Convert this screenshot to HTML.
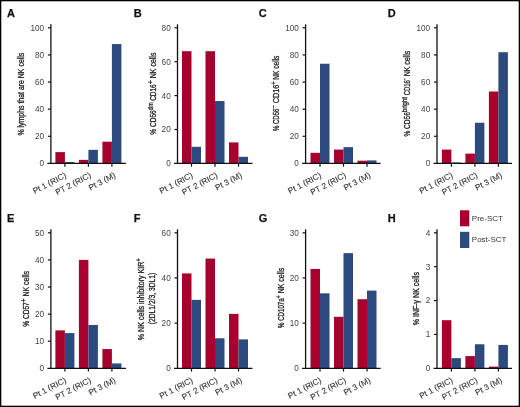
<!DOCTYPE html>
<html><head><meta charset="utf-8"><style>
html,body{margin:0;padding:0;background:#fff;}
svg{display:block;} text{filter:grayscale(1);}
</style></head><body><div class="w">
<svg width="520" height="407" viewBox="0 0 520 407" font-family='"Liberation Sans", sans-serif'>
<rect x="0" y="0" width="520" height="407" fill="#fff"/>
<text x="7.0" y="16.9" font-size="11" font-weight="bold" fill="#111" stroke="#111" stroke-width="0.25">A</text>
<rect x="55.40" y="152.15" width="9.5" height="11.25" fill="#a8012d"/>
<rect x="64.90" y="162.04" width="9.5" height="1.36" fill="#2d4a7e"/>
<rect x="78.90" y="159.87" width="9.5" height="3.53" fill="#a8012d"/>
<rect x="88.40" y="149.84" width="9.5" height="13.56" fill="#2d4a7e"/>
<rect x="102.40" y="141.70" width="9.5" height="21.70" fill="#a8012d"/>
<rect x="111.90" y="44.07" width="9.5" height="119.33" fill="#2d4a7e"/>
<line x1="50.9" y1="24.3" x2="50.9" y2="164.1" stroke="#111" stroke-width="1.3"/>
<line x1="47.4" y1="163.4" x2="125.9" y2="163.4" stroke="#111" stroke-width="1.3"/>
<text x="44.10" y="166.30" font-size="8.2" text-anchor="end" fill="#444">0</text>
<line x1="47.9" y1="136.28" x2="50.9" y2="136.28" stroke="#111" stroke-width="1.2"/>
<text x="44.10" y="139.18" font-size="8.2" text-anchor="end" fill="#444">20</text>
<line x1="47.9" y1="109.16" x2="50.9" y2="109.16" stroke="#111" stroke-width="1.2"/>
<text x="44.10" y="112.06" font-size="8.2" text-anchor="end" fill="#444">40</text>
<line x1="47.9" y1="82.04" x2="50.9" y2="82.04" stroke="#111" stroke-width="1.2"/>
<text x="44.10" y="84.94" font-size="8.2" text-anchor="end" fill="#444">60</text>
<line x1="47.9" y1="54.92" x2="50.9" y2="54.92" stroke="#111" stroke-width="1.2"/>
<text x="44.10" y="57.82" font-size="8.2" text-anchor="end" fill="#444">80</text>
<line x1="47.9" y1="27.80" x2="50.9" y2="27.80" stroke="#111" stroke-width="1.2"/>
<text x="44.10" y="30.70" font-size="8.2" text-anchor="end" fill="#444">100</text>
<line x1="64.9" y1="163.4" x2="64.9" y2="166.70000000000002" stroke="#111" stroke-width="1.2"/>
<text transform="translate(66.90,177.00) rotate(-28)" font-size="8.2" text-anchor="end" fill="#333" stroke="#333" stroke-width="0.12">Pt 1 (RIC)</text>
<line x1="88.4" y1="163.4" x2="88.4" y2="166.70000000000002" stroke="#111" stroke-width="1.2"/>
<text transform="translate(91.60,177.00) rotate(-28)" font-size="8.2" text-anchor="end" fill="#333" stroke="#333" stroke-width="0.12">PT 2 (RIC)</text>
<line x1="111.9" y1="163.4" x2="111.9" y2="166.70000000000002" stroke="#111" stroke-width="1.2"/>
<text transform="translate(116.10,177.00) rotate(-28)" font-size="8.2" text-anchor="end" fill="#333" stroke="#333" stroke-width="0.12">Pt 3 (M)</text>
<text transform="translate(23.9,94.15) rotate(-90)" font-size="8.5" text-anchor="middle" textLength="82.9" fill="#222" stroke="#222" stroke-width="0.3" lengthAdjust="spacingAndGlyphs">% lymphs that are NK cells</text>
<text x="133.7" y="16.9" font-size="11" font-weight="bold" fill="#111" stroke="#111" stroke-width="0.25">B</text>
<rect x="182.00" y="51.19" width="9.5" height="112.21" fill="#a8012d"/>
<rect x="191.50" y="146.79" width="9.5" height="16.61" fill="#2d4a7e"/>
<rect x="205.50" y="51.19" width="9.5" height="112.21" fill="#a8012d"/>
<rect x="215.00" y="101.02" width="9.5" height="62.38" fill="#2d4a7e"/>
<rect x="229.00" y="142.38" width="9.5" height="21.02" fill="#a8012d"/>
<rect x="238.50" y="156.79" width="9.5" height="6.61" fill="#2d4a7e"/>
<line x1="177.5" y1="24.3" x2="177.5" y2="164.1" stroke="#111" stroke-width="1.3"/>
<line x1="174.0" y1="163.4" x2="252.5" y2="163.4" stroke="#111" stroke-width="1.3"/>
<text x="170.70" y="166.30" font-size="8.2" text-anchor="end" fill="#444">0</text>
<line x1="174.5" y1="129.50" x2="177.5" y2="129.50" stroke="#111" stroke-width="1.2"/>
<text x="170.70" y="132.40" font-size="8.2" text-anchor="end" fill="#444">20</text>
<line x1="174.5" y1="95.60" x2="177.5" y2="95.60" stroke="#111" stroke-width="1.2"/>
<text x="170.70" y="98.50" font-size="8.2" text-anchor="end" fill="#444">40</text>
<line x1="174.5" y1="61.70" x2="177.5" y2="61.70" stroke="#111" stroke-width="1.2"/>
<text x="170.70" y="64.60" font-size="8.2" text-anchor="end" fill="#444">60</text>
<line x1="174.5" y1="27.80" x2="177.5" y2="27.80" stroke="#111" stroke-width="1.2"/>
<text x="170.70" y="30.70" font-size="8.2" text-anchor="end" fill="#444">80</text>
<line x1="191.5" y1="163.4" x2="191.5" y2="166.70000000000002" stroke="#111" stroke-width="1.2"/>
<text transform="translate(193.50,177.00) rotate(-28)" font-size="8.2" text-anchor="end" fill="#333" stroke="#333" stroke-width="0.12">Pt 1 (RIC)</text>
<line x1="215.0" y1="163.4" x2="215.0" y2="166.70000000000002" stroke="#111" stroke-width="1.2"/>
<text transform="translate(218.20,177.00) rotate(-28)" font-size="8.2" text-anchor="end" fill="#333" stroke="#333" stroke-width="0.12">PT 2 (RIC)</text>
<line x1="238.5" y1="163.4" x2="238.5" y2="166.70000000000002" stroke="#111" stroke-width="1.2"/>
<text transform="translate(242.70,177.00) rotate(-28)" font-size="8.2" text-anchor="end" fill="#333" stroke="#333" stroke-width="0.12">Pt 3 (M)</text>
<g transform="translate(155.6,0) rotate(-90)">
<text x="-134.80" y="0" font-size="8.5" textLength="24.50" fill="#222" stroke="#222" stroke-width="0.3" lengthAdjust="spacingAndGlyphs" xml:space="preserve">% CD56</text>
<text x="-110.30" y="-3" font-size="6.6" textLength="7.70" fill="#222" stroke="#222" stroke-width="0.3" lengthAdjust="spacingAndGlyphs" xml:space="preserve">dim</text>
<text x="-102.60" y="0" font-size="8.5" textLength="18.30" fill="#222" stroke="#222" stroke-width="0.3" lengthAdjust="spacingAndGlyphs" xml:space="preserve"> CD16</text>
<text x="-84.30" y="-3" font-size="6.6" textLength="4.10" fill="#222" stroke="#222" stroke-width="0.3" lengthAdjust="spacingAndGlyphs" xml:space="preserve">+</text>
<text x="-80.20" y="0" font-size="8.5" textLength="27.60" fill="#222" stroke="#222" stroke-width="0.3" lengthAdjust="spacingAndGlyphs" xml:space="preserve"> NK cells</text>
</g>
<text x="258.7" y="16.9" font-size="11" font-weight="bold" fill="#111" stroke="#111" stroke-width="0.25">C</text>
<rect x="310.50" y="152.82" width="9.5" height="10.58" fill="#a8012d"/>
<rect x="320.00" y="63.73" width="9.5" height="99.67" fill="#2d4a7e"/>
<rect x="334.00" y="149.57" width="9.5" height="13.83" fill="#a8012d"/>
<rect x="343.50" y="147.13" width="9.5" height="16.27" fill="#2d4a7e"/>
<rect x="357.50" y="160.69" width="9.5" height="2.71" fill="#a8012d"/>
<rect x="367.00" y="160.42" width="9.5" height="2.98" fill="#2d4a7e"/>
<line x1="305.6" y1="24.3" x2="305.6" y2="164.1" stroke="#111" stroke-width="1.3"/>
<line x1="302.1" y1="163.4" x2="380.6" y2="163.4" stroke="#111" stroke-width="1.3"/>
<text x="298.80" y="166.30" font-size="8.2" text-anchor="end" fill="#444">0</text>
<line x1="302.6" y1="136.28" x2="305.6" y2="136.28" stroke="#111" stroke-width="1.2"/>
<text x="298.80" y="139.18" font-size="8.2" text-anchor="end" fill="#444">20</text>
<line x1="302.6" y1="109.16" x2="305.6" y2="109.16" stroke="#111" stroke-width="1.2"/>
<text x="298.80" y="112.06" font-size="8.2" text-anchor="end" fill="#444">40</text>
<line x1="302.6" y1="82.04" x2="305.6" y2="82.04" stroke="#111" stroke-width="1.2"/>
<text x="298.80" y="84.94" font-size="8.2" text-anchor="end" fill="#444">60</text>
<line x1="302.6" y1="54.92" x2="305.6" y2="54.92" stroke="#111" stroke-width="1.2"/>
<text x="298.80" y="57.82" font-size="8.2" text-anchor="end" fill="#444">80</text>
<line x1="302.6" y1="27.80" x2="305.6" y2="27.80" stroke="#111" stroke-width="1.2"/>
<text x="298.80" y="30.70" font-size="8.2" text-anchor="end" fill="#444">100</text>
<line x1="320.0" y1="163.4" x2="320.0" y2="166.70000000000002" stroke="#111" stroke-width="1.2"/>
<text transform="translate(322.00,177.00) rotate(-28)" font-size="8.2" text-anchor="end" fill="#333" stroke="#333" stroke-width="0.12">Pt 1 (RIC)</text>
<line x1="343.5" y1="163.4" x2="343.5" y2="166.70000000000002" stroke="#111" stroke-width="1.2"/>
<text transform="translate(346.70,177.00) rotate(-28)" font-size="8.2" text-anchor="end" fill="#333" stroke="#333" stroke-width="0.12">PT 2 (RIC)</text>
<line x1="367.0" y1="163.4" x2="367.0" y2="166.70000000000002" stroke="#111" stroke-width="1.2"/>
<text transform="translate(371.20,177.00) rotate(-28)" font-size="8.2" text-anchor="end" fill="#333" stroke="#333" stroke-width="0.12">Pt 3 (M)</text>
<g transform="translate(279.3,0) rotate(-90)">
<text x="-131.00" y="0" font-size="8.5" textLength="22.40" fill="#222" stroke="#222" stroke-width="0.3" lengthAdjust="spacingAndGlyphs" xml:space="preserve">% CD56</text>
<text x="-108.60" y="-3" font-size="6.6" textLength="3.30" fill="#222" stroke="#222" stroke-width="0.3" lengthAdjust="spacingAndGlyphs" xml:space="preserve">−</text>
<text x="-105.30" y="0" font-size="8.5" textLength="20.50" fill="#222" stroke="#222" stroke-width="0.3" lengthAdjust="spacingAndGlyphs" xml:space="preserve"> CD16</text>
<text x="-84.80" y="-3" font-size="6.6" textLength="3.30" fill="#222" stroke="#222" stroke-width="0.3" lengthAdjust="spacingAndGlyphs" xml:space="preserve">+</text>
<text x="-81.50" y="0" font-size="8.5" textLength="25.90" fill="#222" stroke="#222" stroke-width="0.3" lengthAdjust="spacingAndGlyphs" xml:space="preserve"> NK cells</text>
</g>
<text x="387.8" y="16.9" font-size="11" font-weight="bold" fill="#111" stroke="#111" stroke-width="0.25">D</text>
<rect x="441.90" y="149.57" width="9.5" height="13.83" fill="#a8012d"/>
<rect x="451.40" y="162.45" width="9.5" height="0.95" fill="#2d4a7e"/>
<rect x="465.40" y="153.64" width="9.5" height="9.76" fill="#a8012d"/>
<rect x="474.90" y="122.72" width="9.5" height="40.68" fill="#2d4a7e"/>
<rect x="488.90" y="91.53" width="9.5" height="71.87" fill="#a8012d"/>
<rect x="498.40" y="52.21" width="9.5" height="111.19" fill="#2d4a7e"/>
<line x1="437.0" y1="24.3" x2="437.0" y2="164.1" stroke="#111" stroke-width="1.3"/>
<line x1="433.5" y1="163.4" x2="512.0" y2="163.4" stroke="#111" stroke-width="1.3"/>
<text x="430.20" y="166.30" font-size="8.2" text-anchor="end" fill="#444">0</text>
<line x1="434.0" y1="136.28" x2="437.0" y2="136.28" stroke="#111" stroke-width="1.2"/>
<text x="430.20" y="139.18" font-size="8.2" text-anchor="end" fill="#444">20</text>
<line x1="434.0" y1="109.16" x2="437.0" y2="109.16" stroke="#111" stroke-width="1.2"/>
<text x="430.20" y="112.06" font-size="8.2" text-anchor="end" fill="#444">40</text>
<line x1="434.0" y1="82.04" x2="437.0" y2="82.04" stroke="#111" stroke-width="1.2"/>
<text x="430.20" y="84.94" font-size="8.2" text-anchor="end" fill="#444">60</text>
<line x1="434.0" y1="54.92" x2="437.0" y2="54.92" stroke="#111" stroke-width="1.2"/>
<text x="430.20" y="57.82" font-size="8.2" text-anchor="end" fill="#444">80</text>
<line x1="434.0" y1="27.80" x2="437.0" y2="27.80" stroke="#111" stroke-width="1.2"/>
<text x="430.20" y="30.70" font-size="8.2" text-anchor="end" fill="#444">100</text>
<line x1="451.4" y1="163.4" x2="451.4" y2="166.70000000000002" stroke="#111" stroke-width="1.2"/>
<text transform="translate(453.40,177.00) rotate(-28)" font-size="8.2" text-anchor="end" fill="#333" stroke="#333" stroke-width="0.12">Pt 1 (RIC)</text>
<line x1="474.9" y1="163.4" x2="474.9" y2="166.70000000000002" stroke="#111" stroke-width="1.2"/>
<text transform="translate(478.10,177.00) rotate(-28)" font-size="8.2" text-anchor="end" fill="#333" stroke="#333" stroke-width="0.12">PT 2 (RIC)</text>
<line x1="498.4" y1="163.4" x2="498.4" y2="166.70000000000002" stroke="#111" stroke-width="1.2"/>
<text transform="translate(502.60,177.00) rotate(-28)" font-size="8.2" text-anchor="end" fill="#333" stroke="#333" stroke-width="0.12">Pt 3 (M)</text>
<g transform="translate(410.4,0) rotate(-90)">
<text x="-136.50" y="0" font-size="8.5" textLength="24.30" fill="#222" stroke="#222" stroke-width="0.3" lengthAdjust="spacingAndGlyphs" xml:space="preserve">% CD56</text>
<text x="-112.20" y="-3" font-size="6.6" textLength="15.20" fill="#222" stroke="#222" stroke-width="0.3" lengthAdjust="spacingAndGlyphs" xml:space="preserve">bright</text>
<text x="-97.00" y="0" font-size="8.5" textLength="16.90" fill="#222" stroke="#222" stroke-width="0.3" lengthAdjust="spacingAndGlyphs" xml:space="preserve"> CD16</text>
<text x="-80.10" y="-3" font-size="6.6" textLength="1.80" fill="#222" stroke="#222" stroke-width="0.3" lengthAdjust="spacingAndGlyphs" xml:space="preserve">−</text>
<text x="-78.30" y="0" font-size="8.5" textLength="27.50" fill="#222" stroke="#222" stroke-width="0.3" lengthAdjust="spacingAndGlyphs" xml:space="preserve"> NK cells</text>
</g>
<text x="7.0" y="221.9" font-size="11" font-weight="bold" fill="#111" stroke="#111" stroke-width="0.25">E</text>
<rect x="55.40" y="330.36" width="9.5" height="37.94" fill="#a8012d"/>
<rect x="64.90" y="333.07" width="9.5" height="35.23" fill="#2d4a7e"/>
<rect x="78.90" y="259.90" width="9.5" height="108.40" fill="#a8012d"/>
<rect x="88.40" y="324.94" width="9.5" height="43.36" fill="#2d4a7e"/>
<rect x="102.40" y="349.06" width="9.5" height="19.24" fill="#a8012d"/>
<rect x="111.90" y="363.42" width="9.5" height="4.88" fill="#2d4a7e"/>
<line x1="50.9" y1="229.3" x2="50.9" y2="369.0" stroke="#111" stroke-width="1.3"/>
<line x1="47.4" y1="368.3" x2="125.9" y2="368.3" stroke="#111" stroke-width="1.3"/>
<text x="44.10" y="371.20" font-size="8.2" text-anchor="end" fill="#444">0</text>
<line x1="47.9" y1="341.20" x2="50.9" y2="341.20" stroke="#111" stroke-width="1.2"/>
<text x="44.10" y="344.10" font-size="8.2" text-anchor="end" fill="#444">10</text>
<line x1="47.9" y1="314.10" x2="50.9" y2="314.10" stroke="#111" stroke-width="1.2"/>
<text x="44.10" y="317.00" font-size="8.2" text-anchor="end" fill="#444">20</text>
<line x1="47.9" y1="287.00" x2="50.9" y2="287.00" stroke="#111" stroke-width="1.2"/>
<text x="44.10" y="289.90" font-size="8.2" text-anchor="end" fill="#444">30</text>
<line x1="47.9" y1="259.90" x2="50.9" y2="259.90" stroke="#111" stroke-width="1.2"/>
<text x="44.10" y="262.80" font-size="8.2" text-anchor="end" fill="#444">40</text>
<line x1="47.9" y1="232.80" x2="50.9" y2="232.80" stroke="#111" stroke-width="1.2"/>
<text x="44.10" y="235.70" font-size="8.2" text-anchor="end" fill="#444">50</text>
<line x1="64.9" y1="368.3" x2="64.9" y2="371.6" stroke="#111" stroke-width="1.2"/>
<text transform="translate(66.90,381.90) rotate(-28)" font-size="8.2" text-anchor="end" fill="#333" stroke="#333" stroke-width="0.12">Pt 1 (RIC)</text>
<line x1="88.4" y1="368.3" x2="88.4" y2="371.6" stroke="#111" stroke-width="1.2"/>
<text transform="translate(91.60,381.90) rotate(-28)" font-size="8.2" text-anchor="end" fill="#333" stroke="#333" stroke-width="0.12">PT 2 (RIC)</text>
<line x1="111.9" y1="368.3" x2="111.9" y2="371.6" stroke="#111" stroke-width="1.2"/>
<text transform="translate(116.10,381.90) rotate(-28)" font-size="8.2" text-anchor="end" fill="#333" stroke="#333" stroke-width="0.12">Pt 3 (M)</text>
<g transform="translate(28.6,0) rotate(-90)">
<text x="-326.80" y="0" font-size="8.5" textLength="24.60" fill="#222" stroke="#222" stroke-width="0.3" lengthAdjust="spacingAndGlyphs" xml:space="preserve">% CD57</text>
<text x="-302.20" y="-3" font-size="6.6" textLength="3.70" fill="#222" stroke="#222" stroke-width="0.3" lengthAdjust="spacingAndGlyphs" xml:space="preserve">+</text>
<text x="-298.50" y="0" font-size="8.5" textLength="27.50" fill="#222" stroke="#222" stroke-width="0.3" lengthAdjust="spacingAndGlyphs" xml:space="preserve"> NK cells</text>
</g>
<text x="133.7" y="221.9" font-size="11" font-weight="bold" fill="#111" stroke="#111" stroke-width="0.25">F</text>
<rect x="182.00" y="273.45" width="9.5" height="94.85" fill="#a8012d"/>
<rect x="191.50" y="299.87" width="9.5" height="68.43" fill="#2d4a7e"/>
<rect x="205.50" y="258.55" width="9.5" height="109.75" fill="#a8012d"/>
<rect x="215.00" y="338.26" width="9.5" height="30.04" fill="#2d4a7e"/>
<rect x="229.00" y="313.87" width="9.5" height="54.43" fill="#a8012d"/>
<rect x="238.50" y="339.39" width="9.5" height="28.91" fill="#2d4a7e"/>
<line x1="177.5" y1="229.3" x2="177.5" y2="369.0" stroke="#111" stroke-width="1.3"/>
<line x1="174.0" y1="368.3" x2="252.5" y2="368.3" stroke="#111" stroke-width="1.3"/>
<text x="170.70" y="371.20" font-size="8.2" text-anchor="end" fill="#444">0</text>
<line x1="174.5" y1="323.13" x2="177.5" y2="323.13" stroke="#111" stroke-width="1.2"/>
<text x="170.70" y="326.03" font-size="8.2" text-anchor="end" fill="#444">20</text>
<line x1="174.5" y1="277.97" x2="177.5" y2="277.97" stroke="#111" stroke-width="1.2"/>
<text x="170.70" y="280.87" font-size="8.2" text-anchor="end" fill="#444">40</text>
<line x1="174.5" y1="232.80" x2="177.5" y2="232.80" stroke="#111" stroke-width="1.2"/>
<text x="170.70" y="235.70" font-size="8.2" text-anchor="end" fill="#444">60</text>
<line x1="191.5" y1="368.3" x2="191.5" y2="371.6" stroke="#111" stroke-width="1.2"/>
<text transform="translate(193.50,381.90) rotate(-28)" font-size="8.2" text-anchor="end" fill="#333" stroke="#333" stroke-width="0.12">Pt 1 (RIC)</text>
<line x1="215.0" y1="368.3" x2="215.0" y2="371.6" stroke="#111" stroke-width="1.2"/>
<text transform="translate(218.20,381.90) rotate(-28)" font-size="8.2" text-anchor="end" fill="#333" stroke="#333" stroke-width="0.12">PT 2 (RIC)</text>
<line x1="238.5" y1="368.3" x2="238.5" y2="371.6" stroke="#111" stroke-width="1.2"/>
<text transform="translate(242.70,381.90) rotate(-28)" font-size="8.2" text-anchor="end" fill="#333" stroke="#333" stroke-width="0.12">Pt 3 (M)</text>
<g transform="translate(144.4,0) rotate(-90)">
<text x="-340.30" y="0" font-size="8.5" textLength="78.80" fill="#222" stroke="#222" stroke-width="0.3" lengthAdjust="spacingAndGlyphs" xml:space="preserve">% NK cells inhibitory KIR</text>
<text x="-261.50" y="-3" font-size="6.6" textLength="3.10" fill="#222" stroke="#222" stroke-width="0.3" lengthAdjust="spacingAndGlyphs" xml:space="preserve">+</text>
</g>
<text transform="translate(155.3,298.5) rotate(-90)" font-size="8.5" text-anchor="middle" textLength="51.5" fill="#222" stroke="#222" stroke-width="0.3" lengthAdjust="spacingAndGlyphs">(2DL1/2/3, 3DL1)</text>
<text x="258.7" y="221.9" font-size="11" font-weight="bold" fill="#111" stroke="#111" stroke-width="0.25">G</text>
<rect x="310.50" y="268.93" width="9.5" height="99.37" fill="#a8012d"/>
<rect x="320.00" y="293.32" width="9.5" height="74.98" fill="#2d4a7e"/>
<rect x="334.00" y="316.81" width="9.5" height="51.49" fill="#a8012d"/>
<rect x="343.50" y="253.12" width="9.5" height="115.17" fill="#2d4a7e"/>
<rect x="357.50" y="299.19" width="9.5" height="69.11" fill="#a8012d"/>
<rect x="367.00" y="290.61" width="9.5" height="77.69" fill="#2d4a7e"/>
<line x1="305.6" y1="229.3" x2="305.6" y2="369.0" stroke="#111" stroke-width="1.3"/>
<line x1="302.1" y1="368.3" x2="380.6" y2="368.3" stroke="#111" stroke-width="1.3"/>
<text x="298.80" y="371.20" font-size="8.2" text-anchor="end" fill="#444">0</text>
<line x1="302.6" y1="323.13" x2="305.6" y2="323.13" stroke="#111" stroke-width="1.2"/>
<text x="298.80" y="326.03" font-size="8.2" text-anchor="end" fill="#444">10</text>
<line x1="302.6" y1="277.97" x2="305.6" y2="277.97" stroke="#111" stroke-width="1.2"/>
<text x="298.80" y="280.87" font-size="8.2" text-anchor="end" fill="#444">20</text>
<line x1="302.6" y1="232.80" x2="305.6" y2="232.80" stroke="#111" stroke-width="1.2"/>
<text x="298.80" y="235.70" font-size="8.2" text-anchor="end" fill="#444">30</text>
<line x1="320.0" y1="368.3" x2="320.0" y2="371.6" stroke="#111" stroke-width="1.2"/>
<text transform="translate(322.00,381.90) rotate(-28)" font-size="8.2" text-anchor="end" fill="#333" stroke="#333" stroke-width="0.12">Pt 1 (RIC)</text>
<line x1="343.5" y1="368.3" x2="343.5" y2="371.6" stroke="#111" stroke-width="1.2"/>
<text transform="translate(346.70,381.90) rotate(-28)" font-size="8.2" text-anchor="end" fill="#333" stroke="#333" stroke-width="0.12">PT 2 (RIC)</text>
<line x1="367.0" y1="368.3" x2="367.0" y2="371.6" stroke="#111" stroke-width="1.2"/>
<text transform="translate(371.20,381.90) rotate(-28)" font-size="8.2" text-anchor="end" fill="#333" stroke="#333" stroke-width="0.12">Pt 3 (M)</text>
<g transform="translate(283.8,0) rotate(-90)">
<text x="-328.00" y="0" font-size="8.5" textLength="29.60" fill="#222" stroke="#222" stroke-width="0.3" lengthAdjust="spacingAndGlyphs" xml:space="preserve">% CD107a</text>
<text x="-298.40" y="-3" font-size="6.6" textLength="3.20" fill="#222" stroke="#222" stroke-width="0.3" lengthAdjust="spacingAndGlyphs" xml:space="preserve">+</text>
<text x="-295.20" y="0" font-size="8.5" textLength="27.40" fill="#222" stroke="#222" stroke-width="0.3" lengthAdjust="spacingAndGlyphs" xml:space="preserve"> NK cells</text>
</g>
<text x="387.8" y="221.9" font-size="11" font-weight="bold" fill="#111" stroke="#111" stroke-width="0.25">H</text>
<rect x="441.90" y="320.20" width="9.5" height="48.10" fill="#a8012d"/>
<rect x="451.40" y="358.14" width="9.5" height="10.16" fill="#2d4a7e"/>
<rect x="465.40" y="356.11" width="9.5" height="12.20" fill="#a8012d"/>
<rect x="474.90" y="344.25" width="9.5" height="24.05" fill="#2d4a7e"/>
<rect x="488.90" y="366.61" width="9.5" height="1.69" fill="#a8012d"/>
<rect x="498.40" y="344.93" width="9.5" height="23.37" fill="#2d4a7e"/>
<line x1="437.0" y1="229.3" x2="437.0" y2="369.0" stroke="#111" stroke-width="1.3"/>
<line x1="433.5" y1="368.3" x2="512.0" y2="368.3" stroke="#111" stroke-width="1.3"/>
<text x="430.20" y="371.20" font-size="8.2" text-anchor="end" fill="#444">0</text>
<line x1="434.0" y1="334.43" x2="437.0" y2="334.43" stroke="#111" stroke-width="1.2"/>
<text x="430.20" y="337.32" font-size="8.2" text-anchor="end" fill="#444">1</text>
<line x1="434.0" y1="300.55" x2="437.0" y2="300.55" stroke="#111" stroke-width="1.2"/>
<text x="430.20" y="303.45" font-size="8.2" text-anchor="end" fill="#444">2</text>
<line x1="434.0" y1="266.68" x2="437.0" y2="266.68" stroke="#111" stroke-width="1.2"/>
<text x="430.20" y="269.57" font-size="8.2" text-anchor="end" fill="#444">3</text>
<line x1="434.0" y1="232.80" x2="437.0" y2="232.80" stroke="#111" stroke-width="1.2"/>
<text x="430.20" y="235.70" font-size="8.2" text-anchor="end" fill="#444">4</text>
<line x1="451.4" y1="368.3" x2="451.4" y2="371.6" stroke="#111" stroke-width="1.2"/>
<text transform="translate(453.40,381.90) rotate(-28)" font-size="8.2" text-anchor="end" fill="#333" stroke="#333" stroke-width="0.12">Pt 1 (RIC)</text>
<line x1="474.9" y1="368.3" x2="474.9" y2="371.6" stroke="#111" stroke-width="1.2"/>
<text transform="translate(478.10,381.90) rotate(-28)" font-size="8.2" text-anchor="end" fill="#333" stroke="#333" stroke-width="0.12">PT 2 (RIC)</text>
<line x1="498.4" y1="368.3" x2="498.4" y2="371.6" stroke="#111" stroke-width="1.2"/>
<text transform="translate(502.60,381.90) rotate(-28)" font-size="8.2" text-anchor="end" fill="#333" stroke="#333" stroke-width="0.12">Pt 3 (M)</text>
<text transform="translate(419.3,298.7) rotate(-90)" font-size="8.5" text-anchor="middle" textLength="53.2" fill="#222" stroke="#222" stroke-width="0.3" lengthAdjust="spacingAndGlyphs">% INF-γ NK cells</text>
<rect x="460" y="210.3" width="9.3" height="16" fill="#a8012d"/>
<rect x="460" y="231.8" width="9.3" height="16.2" fill="#2d4a7e"/>
<text x="471.8" y="221.2" font-size="8" fill="#333">Pre-SCT</text>
<text x="471.8" y="242.2" font-size="8" fill="#333">Post-SCT</text>
<rect x="0.6" y="0.6" width="518.8" height="405.8" fill="none" stroke="#000" stroke-width="1.4"/>
</svg>
</div></body></html>
